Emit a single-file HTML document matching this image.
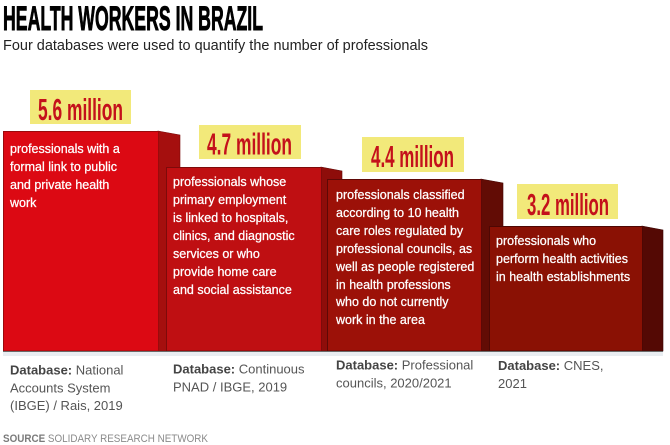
<!DOCTYPE html>
<html>
<head>
<meta charset="utf-8">
<style>
html,body{margin:0;padding:0;background:#fff;}
body{width:670px;height:445px;overflow:hidden;}
svg{display:block;}
.t{font-family:"Liberation Sans",sans-serif;font-size:12.5px;fill:#fff;stroke:#fff;stroke-width:0.25px;}
.db{font-family:"Liberation Sans",sans-serif;font-size:13px;fill:#555;}
.db .b{font-weight:bold;fill:#444;}
.lab{font-family:"Liberation Sans Narrow","Liberation Sans",sans-serif;font-weight:bold;font-size:31px;fill:#c4111b;}
</style>
</head>
<body>
<svg width="670" height="445" viewBox="0 0 670 445" xmlns="http://www.w3.org/2000/svg">
  <rect width="670" height="445" fill="#fff"/>
  <!-- title -->
  <text x="3" y="30" textLength="260" lengthAdjust="spacingAndGlyphs" font-family="Liberation Sans Narrow, Liberation Sans, sans-serif" font-weight="bold" font-size="34" fill="#000" stroke="#000" stroke-width="0.9">HEALTH WORKERS IN BRAZIL</text>
  <text x="3" y="50" textLength="425" lengthAdjust="spacingAndGlyphs" font-family="Liberation Sans, sans-serif" font-size="15" fill="#222">Four databases were used to quantify the number of professionals</text>

  <!-- shadow band -->
  <rect x="3" y="351" width="660" height="5" fill="#e9edf1"/>

  <!-- box 1 -->
  <polygon points="158,131 180,135 180,351 158,351" fill="#a50f0e" stroke="#7a0a0a" stroke-width="0.6"/>
  <rect x="3.5" y="131.5" width="155" height="219.5" fill="#dc0913" stroke="#9a0a0c" stroke-width="1"/>
  <!-- box 2 -->
  <polygon points="321,167 342,171 342,351 321,351" fill="#8e0d0a" stroke="#5e0806" stroke-width="0.6"/>
  <rect x="166.5" y="167.5" width="155" height="183.5" fill="#bf0f12" stroke="#7e0a0a" stroke-width="1"/>
  <!-- box 3 -->
  <polygon points="481,179 503,183 503,351 481,351" fill="#620c05" stroke="#420603" stroke-width="0.6"/>
  <rect x="327.5" y="179.5" width="154" height="171.5" fill="#9c1108" stroke="#5e0806" stroke-width="1"/>
  <!-- box 4 -->
  <polygon points="642,226 663,230 663,351 642,351" fill="#540904" stroke="#3a0402" stroke-width="0.6"/>
  <rect x="489.5" y="226.5" width="153" height="124.5" fill="#8a1104" stroke="#4e0703" stroke-width="1"/>

  <line x1="3" y1="351.5" x2="663" y2="351.5" stroke="#6a6a6a" stroke-width="1"/>

  <!-- labels -->
  <rect x="30" y="90" width="101" height="34" fill="#f2e97a"/>
  <text class="lab" x="38" y="120" textLength="85" lengthAdjust="spacingAndGlyphs">5.6 million</text>
  <rect x="199" y="125" width="102" height="34" fill="#f2e97a"/>
  <text class="lab" x="207" y="154.5" textLength="85" lengthAdjust="spacingAndGlyphs">4.7 million</text>
  <rect x="362" y="137" width="102" height="35" fill="#f2e97a"/>
  <text class="lab" x="371" y="167" textLength="83" lengthAdjust="spacingAndGlyphs">4.4 million</text>
  <rect x="517" y="184" width="101" height="35" fill="#f2e97a"/>
  <text class="lab" x="527" y="215" textLength="82" lengthAdjust="spacingAndGlyphs">3.2 million</text>

  <!-- box 1 text -->
  <text class="t" x="10" y="153">professionals with a</text>
  <text class="t" x="10" y="171">formal link to public</text>
  <text class="t" x="10" y="189">and private health</text>
  <text class="t" x="10" y="207">work</text>

  <!-- box 2 text -->
  <text class="t" x="173" y="186">professionals whose</text>
  <text class="t" x="173" y="204">primary employment</text>
  <text class="t" x="173" y="222">is linked to hospitals,</text>
  <text class="t" x="173" y="240">clinics, and diagnostic</text>
  <text class="t" x="173" y="258">services or who</text>
  <text class="t" x="173" y="276">provide home care</text>
  <text class="t" x="173" y="294">and social assistance</text>

  <!-- box 3 text -->
  <text class="t" x="336" y="199">professionals classified</text>
  <text class="t" x="336" y="217">according to 10 health</text>
  <text class="t" x="336" y="235">care roles regulated by</text>
  <text class="t" x="336" y="253">professional councils, as</text>
  <text class="t" x="336" y="271">well as people registered</text>
  <text class="t" x="336" y="289">in health professions</text>
  <text class="t" x="336" y="306">who do not currently</text>
  <text class="t" x="336" y="324">work in the area</text>

  <!-- box 4 text -->
  <text class="t" x="496" y="245">professionals who</text>
  <text class="t" x="496" y="263">perform health activities</text>
  <text class="t" x="496" y="281">in health establishments</text>

  <!-- database labels -->
  <text class="db" x="10" y="374.5"><tspan class="b">Database:</tspan> National</text>
  <text class="db" x="10" y="392.5">Accounts System</text>
  <text class="db" x="10" y="410">(IBGE) / Rais, 2019</text>

  <text class="db" x="173" y="373.5"><tspan class="b">Database:</tspan> Continuous</text>
  <text class="db" x="173" y="391.5">PNAD / IBGE, 2019</text>

  <text class="db" x="336" y="369.5"><tspan class="b">Database:</tspan> Professional</text>
  <text class="db" x="336" y="387.5">councils, 2020/2021</text>

  <text class="db" x="498" y="370"><tspan class="b">Database:</tspan> CNES,</text>
  <text class="db" x="498" y="388">2021</text>

  <!-- source -->
  <text x="3" y="442" textLength="205" lengthAdjust="spacingAndGlyphs" font-family="Liberation Sans, sans-serif" font-size="11" fill="#8a8a8a"><tspan font-weight="bold" fill="#7a7a7a">SOURCE</tspan> SOLIDARY RESEARCH NETWORK</text>
</svg>
</body>
</html>
